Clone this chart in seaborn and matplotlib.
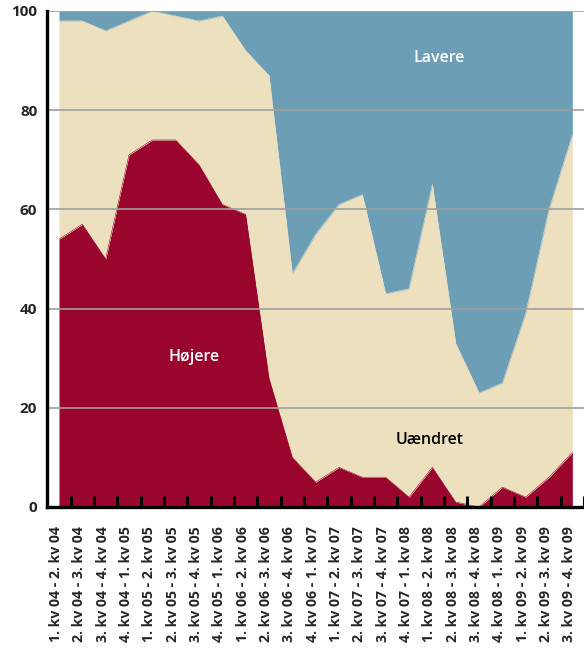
import numpy as np
import pandas as pd
import matplotlib
matplotlib.use("Agg")
import matplotlib.pyplot as plt
import matplotlib.transforms as mtransforms
import seaborn as sns

periods = ["1. kv 04 - 2. kv 04", "2. kv 04 - 3. kv 04", "3. kv 04 - 4. kv 04",
           "4. kv 04 - 1. kv 05", "1. kv 05 - 2. kv 05", "2. kv 05 - 3. kv 05",
           "3. kv 05 - 4. kv 05", "4. kv 05 - 1. kv 06", "1. kv 06 - 2. kv 06",
           "2. kv 06 - 3. kv 06", "3. kv 06 - 4. kv 06", "4. kv 06 - 1. kv 07",
           "1. kv 07 - 2. kv 07", "2. kv 07 - 3. kv 07", "3. kv 07 - 4. kv 07",
           "4. kv 07 - 1. kv 08", "1. kv 08 - 2. kv 08", "2. kv 08 - 3. kv 08",
           "3. kv 08 - 4. kv 08", "4. kv 08 - 1. kv 09", "1. kv 09 - 2. kv 09",
           "2. kv 09 - 3. kv 09", "3. kv 09 - 4. kv 09"]
hojere = [54, 57, 50, 71, 74, 74, 69, 61, 59, 26, 10, 5, 8, 6, 6, 2, 8, 1, 0, 4, 2, 6, 11]
uaendret = [44, 41, 46, 27, 26, 25, 29, 38, 33, 61, 37, 50, 53, 57, 37, 42, 57, 32, 23, 21, 37, 54, 64]
lavere = [2, 2, 4, 2, 0, 1, 2, 1, 8, 13, 53, 45, 39, 37, 57, 56, 35, 67, 77, 75, 61, 40, 25]
y_ticks = [0, 20, 40, 60, 80, 100]

c_red = "#9a052d"
c_beige = "#ede0be"
c_blue = "#6c9eb5"

sns.set_theme(style="white")
plt.rcParams["font.family"] = ["Open Sans", "DejaVu Sans"]

df = pd.DataFrame({"x": np.arange(len(periods)), "Højere": hojere,
                   "Uændret": uaendret, "Lavere": lavere})
df["cum1"] = df["Højere"]
df["cum2"] = df["Højere"] + df["Uændret"]

fig = plt.figure(figsize=(5.84, 6.55), dpi=100)
ax = fig.add_axes([47 / 584, (655 - 507) / 655, 1 - 47 / 584, (507 - 11) / 655])
ax.set_axisbelow(False)

ax.stackplot(df["x"], df["Højere"], df["Uændret"], df["Lavere"],
             colors=[c_red, c_beige, c_blue], linewidth=0, zorder=1)
sns.lineplot(data=df, x="x", y="cum1", ax=ax, color=c_red, linewidth=0.4, zorder=1.1)
sns.lineplot(data=df, x="x", y="cum2", ax=ax, color=c_beige, linewidth=0.4, zorder=1.1)

ax.set_xlim(-0.514, 22.5)
ax.set_ylim(0, 100)
ax.set_xlabel("")
ax.set_ylabel("")

for yv in y_ticks[1:]:
    ax.axhline(yv, color="#a0a0a0", linewidth=1.2, zorder=2)

ax.set_yticks(y_ticks)
ax.set_yticklabels([str(v) for v in y_ticks], fontsize=11, fontweight="bold")
ax.tick_params(axis="y", length=0, pad=7)

ax.set_xticks(df["x"])
ax.set_xticklabels(periods, rotation=90, fontsize=10.2, fontweight="bold")
ax.tick_params(axis="x", which="major", length=0, pad=14)
offset = mtransforms.ScaledTranslation(-3 / 100, 0, fig.dpi_scale_trans)
for lbl in ax.get_xticklabels():
    lbl.set_transform(lbl.get_transform() + offset)

ax.set_xticks(np.arange(len(periods)) + 0.5, minor=True)
ax.tick_params(axis="x", which="minor", direction="in", length=8, width=2.2,
               color="black", bottom=True)

for s in ["top", "right"]:
    ax.spines[s].set_visible(False)
for s in ["left", "bottom"]:
    ax.spines[s].set_visible(True)
    ax.spines[s].set_color("black")
    ax.spines[s].set_linewidth(2.4)
    ax.spines[s].set_zorder(3)

ax.text(16.3, 90.5, "Lavere", color="white", fontsize=11.5, fontweight="semibold",
        ha="center", va="center", zorder=4)
ax.text(5.8, 30.2, "Højere", color="white", fontsize=11.5, fontweight="semibold",
        ha="center", va="center", zorder=4)
ax.text(15.9, 13.5, "Uændret", color="black", fontsize=11.5, fontweight="semibold",
        ha="center", va="center", zorder=4)

fig.savefig("out.png", dpi=100)
